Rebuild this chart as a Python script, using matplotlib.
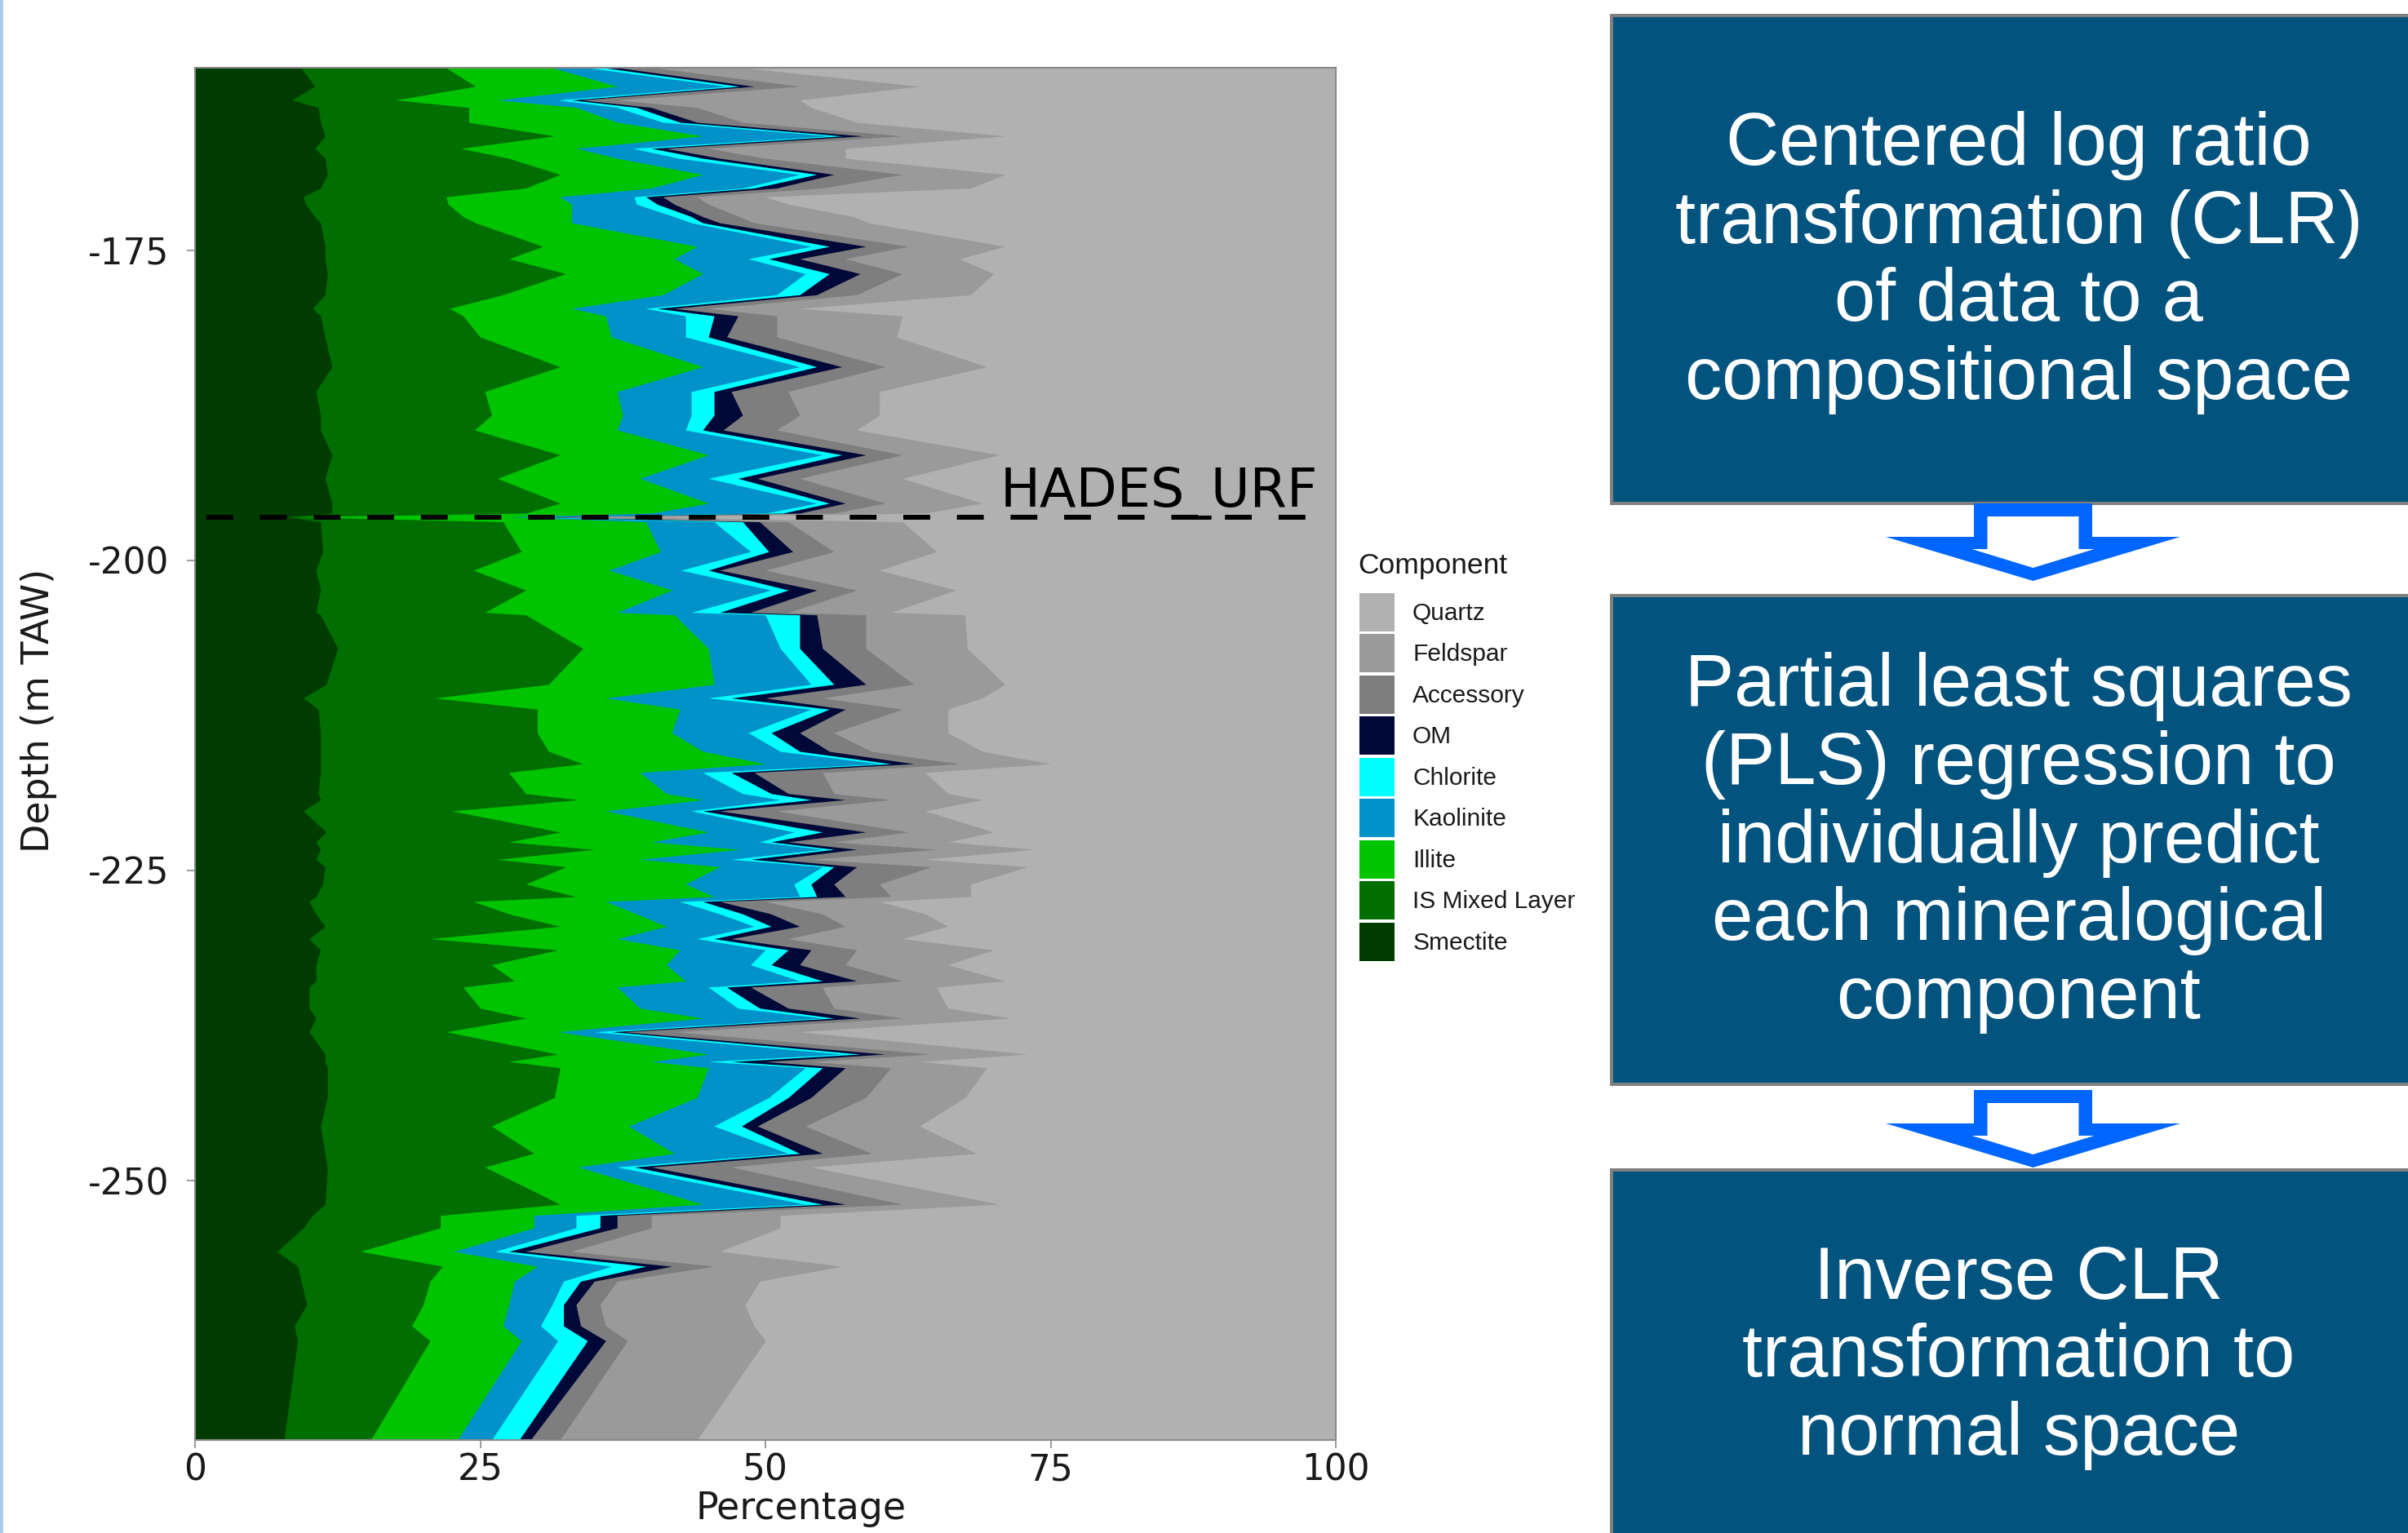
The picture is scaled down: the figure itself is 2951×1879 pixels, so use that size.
import numpy as np
import matplotlib
matplotlib.use('Agg')
import matplotlib.pyplot as plt
from matplotlib.patches import Patch, Rectangle, Polygon

plt.rcParams['axes.unicode_minus'] = False

# Depth of each sample (m TAW)
depth = [-160.3, -161.8, -162.9, -163.5, -164.7, -165.8, -166.8, -167.6, -168.9, -170.0,
         -170.7, -171.3, -172.3, -172.8, -174.7, -175.7, -176.9, -178.6, -179.7, -180.3,
         -182.0, -184.4, -186.4, -188.3, -189.5, -191.5, -193.4, -195.4, -196.2, -196.5,
         -196.9, -199.3, -200.8, -202.4, -204.2, -204.4, -207.1, -210.0, -211.1, -212.0,
         -213.9, -215.4, -216.4, -217.1, -218.8, -219.3, -220.2, -221.9, -222.7, -223.3,
         -224.1, -224.7, -226.1, -227.1, -227.5, -228.5, -229.5, -230.5, -231.4, -232.6,
         -233.9, -234.4, -236.1, -236.9, -238.0, -239.8, -240.4, -240.9, -243.3, -245.6,
         -247.8, -248.9, -251.9, -252.8, -253.8, -255.7, -256.9, -258.1, -260.0, -261.7,
         -262.9, -270.9]

# Cumulative percentage at the right edge of each component
smectite = [9.3, 10.5, 8.5, 10.8, 11.0, 11.4, 10.5, 11.4, 11.6, 11.0,
            9.5, 9.7, 10.5, 11.0, 11.4, 11.4, 11.6, 11.4, 10.3, 11.0,
            11.4, 12.0, 10.6, 11.0, 11.0, 12.0, 11.4, 12.0, 12.0, 8.0,
            11.0, 11.2, 10.6, 11.0, 10.6, 11.0, 12.5, 11.5, 9.5, 10.8,
            11.0, 11.0, 11.0, 11.0, 10.8, 11.0, 9.5, 11.5, 10.6, 11.0,
            10.6, 11.4, 11.2, 10.6, 10.0, 10.6, 11.4, 10.0, 11.0, 10.6,
            10.6, 10.0, 10.0, 10.6, 10.0, 11.4, 11.4, 11.6, 11.6, 11.0,
            11.4, 11.6, 11.4, 10.3, 9.5, 7.2, 9.0, 9.3, 9.8, 8.7,
            9.0, 7.8]
mixed = [22.0, 24.6, 17.6, 24.0, 24.0, 31.5, 23.3, 27.5, 32.0, 29.0,
         22.0, 22.2, 23.5, 24.6, 30.5, 27.5, 32.5, 27.0, 22.3, 23.5,
         25.0, 32.0, 25.4, 26.0, 24.5, 32.0, 26.5, 32.0, 29.0, 9.0,
         27.0, 28.6, 24.4, 29.0, 25.4, 29.0, 34.0, 31.0, 21.0, 30.0,
         30.0, 31.0, 34.0, 27.5, 29.0, 33.6, 22.5, 32.0, 27.5, 35.0,
         26.5, 32.5, 29.0, 33.4, 24.4, 27.5, 32.0, 20.6, 31.8, 26.0,
         28.0, 23.5, 25.0, 29.0, 22.0, 31.8, 27.5, 32.0, 31.5, 26.0,
         29.7, 25.4, 32.0, 21.5, 21.5, 14.5, 21.7, 20.6, 20.0, 19.0,
         20.6, 15.4]
illite = [31.3, 37.0, 26.5, 33.4, 37.0, 44.5, 33.4, 37.0, 44.5, 40.0,
          32.0, 33.0, 33.0, 33.0, 44.0, 42.0, 44.5, 41.0, 33.0, 36.0,
          36.5, 44.5, 37.0, 37.5, 37.0, 45.0, 39.0, 45.0, 40.0, 27.5,
          39.5, 40.8, 36.3, 41.8, 37.0, 42.0, 45.0, 45.5, 36.0, 42.5,
          41.8, 44.5, 50.0, 39.0, 41.3, 44.5, 36.0, 45.0, 40.0, 47.7,
          39.0, 46.0, 43.0, 45.5, 36.0, 38.7, 41.3, 37.0, 42.5, 41.3,
          43.0, 37.0, 39.0, 44.5, 31.8, 45.0, 40.0, 45.0, 44.0, 38.0,
          42.0, 33.6, 44.5, 29.7, 29.7, 22.7, 30.0, 28.0, 27.5, 27.0,
          28.6, 23.0]
kaolinite = [34.4, 46.6, 31.8, 37.0, 41.0, 55.6, 38.4, 42.4, 53.0, 48.0,
             38.5, 38.7, 42.0, 43.5, 54.0, 48.5, 53.5, 51.0, 39.5, 43.0,
             43.0, 53.0, 43.5, 43.5, 43.0, 55.0, 45.0, 54.5, 50.0, 28.6,
             45.5, 48.7, 42.6, 50.5, 43.5, 50.0, 51.3, 54.0, 45.0, 54.0,
             48.5, 51.3, 60.0, 44.5, 48.0, 51.3, 43.5, 52.5, 49.5, 55.0,
             47.0, 55.0, 52.5, 53.0, 42.5, 46.0, 49.0, 44.0, 50.0, 48.7,
             53.0, 45.0, 47.6, 55.0, 35.0, 56.7, 45.0, 53.5, 50.3, 45.5,
             52.0, 37.0, 53.5, 33.4, 33.4, 26.3, 36.5, 32.3, 31.3, 30.3,
             31.8, 26.0]
chlorite = [35.8, 47.7, 33.0, 38.7, 42.5, 56.7, 40.0, 44.5, 54.5, 49.0,
            39.5, 40.5, 43.5, 44.5, 55.6, 50.3, 55.6, 53.0, 40.5, 45.5,
            45.0, 54.5, 45.5, 45.5, 44.5, 56.7, 47.6, 55.6, 51.5, 29.7,
            48.0, 50.3, 45.0, 52.0, 46.0, 53.0, 53.0, 56.0, 47.0, 55.6,
            50.5, 53.0, 61.0, 47.0, 50.5, 54.0, 44.5, 55.0, 50.5, 56.0,
            48.7, 56.0, 54.0, 54.5, 44.5, 48.0, 50.5, 45.5, 52.0, 50.5,
            55.0, 46.6, 49.5, 56.0, 36.5, 58.3, 47.0, 55.0, 52.0, 47.9,
            53.0, 38.5, 55.0, 35.5, 35.5, 27.5, 39.5, 33.8, 32.3, 32.3,
            34.4, 28.4]
om = [37.1, 49.0, 33.9, 40.0, 44.0, 58.5, 41.3, 46.0, 56.0, 51.0,
      41.0, 42.0, 44.5, 46.0, 58.8, 53.0, 58.3, 54.5, 42.0, 47.6,
      46.6, 56.7, 47.0, 48.0, 46.3, 58.8, 49.3, 57.0, 53.0, 30.5,
      49.5, 52.4, 46.0, 54.5, 48.7, 54.5, 55.0, 58.8, 50.0, 57.0,
      53.0, 55.6, 63.0, 49.0, 52.0, 57.0, 46.0, 58.8, 52.0, 58.0,
      50.8, 58.0, 56.0, 57.0, 46.0, 50.5, 53.0, 47.0, 54.0, 53.0,
      58.0, 48.7, 52.0, 58.3, 37.6, 60.5, 50.0, 57.0, 54.0, 49.3,
      55.0, 40.0, 57.0, 37.0, 37.0, 29.0, 41.8, 35.0, 33.4, 33.8,
      36.0, 29.4]
accessory = [40.3, 53.0, 37.0, 44.0, 48.0, 62.0, 45.0, 50.0, 62.0, 55.0,
             44.0, 45.0, 47.7, 49.0, 62.5, 57.0, 62.0, 58.0, 45.0, 51.0,
             51.0, 60.5, 52.0, 53.0, 51.0, 62.0, 53.0, 60.5, 56.0, 33.0,
             52.0, 56.0, 50.0, 58.0, 52.0, 58.8, 58.8, 63.0, 55.0, 62.0,
             56.0, 59.3, 67.0, 55.0, 56.0, 61.0, 51.0, 62.5, 56.0, 65.0,
             54.0, 64.5, 60.0, 61.0, 50.0, 55.0, 57.0, 52.0, 58.0, 57.0,
             62.0, 55.0, 56.0, 62.0, 42.0, 64.5, 54.0, 61.0, 58.8, 53.5,
             59.3, 47.0, 62.0, 40.0, 40.0, 33.0, 45.5, 37.0, 35.5, 36.0,
             37.9, 32.0]
feldspar = [48.0, 63.5, 53.0, 54.0, 58.0, 71.0, 57.0, 57.0, 71.0, 68.0,
            50.0, 52.0, 57.7, 59.0, 71.0, 67.0, 70.0, 68.0, 53.0, 62.0,
            61.5, 69.4, 60.0, 60.0, 58.0, 70.5, 62.0, 69.0, 64.0, 40.0,
            62.0, 65.0, 60.0, 66.7, 61.0, 67.5, 67.7, 71.0, 69.0, 66.0,
            66.0, 69.0, 75.0, 64.0, 66.0, 69.0, 64.0, 70.0, 66.0, 73.6,
            64.0, 73.0, 68.0, 68.0, 60.0, 64.0, 66.0, 62.0, 70.0, 66.0,
            71.0, 65.0, 66.0, 71.5, 53.0, 73.0, 63.5, 69.4, 67.5, 63.5,
            68.5, 54.0, 70.5, 51.3, 51.3, 46.0, 56.7, 49.5, 48.2, 49.0,
            50.0, 44.0]

components = ['Quartz', 'Feldspar', 'Accessory', 'OM', 'Chlorite',
              'Kaolinite', 'Illite', 'IS Mixed Layer', 'Smectite']
colors = ['#B1B1B1', '#9A9A9A', '#7E7E7E', '#000838', '#00FFFF',
          '#0092C8', '#00C400', '#006E00', '#003C00']

urf_depth = -196.5
xticks = [0, 25, 50, 75, 100]
yticks = [-175, -200, -225, -250]

steps = ['Centered log ratio\ntransformation (CLR)\nof data to a\ncompositional space',
         'Partial least squares\n(PLS) regression to\nindividually predict\neach mineralogical\ncomponent',
         'Inverse CLR\ntransformation to\nnormal space']

W, H = 2951, 1879
fig = plt.figure(figsize=(W / 100, H / 100), dpi=100)
fig.patch.set_facecolor('white')

def fx(x):
    return x / W

def fy(y):
    return 1 - y / H

#%% Stacked composition log
ax = fig.add_axes([fx(239), fy(1765), 1398 / W, 1682 / H])

# quartz fills the rest up to 100 %, the others are layered from the right
ax.fill_betweenx(depth, 0, 100, color=colors[0], linewidth=0)
edges = [feldspar, accessory, om, chlorite, kaolinite, illite, mixed, smectite]
for edge, col in zip(edges, colors[1:]):
    ax.fill_betweenx(depth, 0, edge, color=col, linewidth=0)

ax.axhline(urf_depth, xmin=0.01, xmax=0.99, color='black', linewidth=4.3,
           linestyle=(0, (5.5, 5.5)))
ax.annotate('HADES_URF', xy=(98.4, urf_depth), xytext=(0, 9),
            textcoords='offset points', ha='right', va='baseline',
            fontsize=47, color='black')

ax.set_xlim(0, 100)
ax.set_ylim(-270.9, -160.3)
ax.set_xticks(xticks)
ax.set_yticks(yticks)
for s in ax.spines.values():
    s.set_color('#8A8A8A')
    s.set_linewidth(1.5)
ax.tick_params(axis='both', direction='out', length=7, width=1.2,
               color='#8A8A8A', labelsize=31.5, labelcolor='#1A1A1A')
ax.tick_params(axis='y', pad=16)
ax.tick_params(axis='x', pad=4)

ax.set_ylabel('Depth (m TAW)', fontsize=33, color='#1A1A1A')
ax.yaxis.label.set_va('center')
ax.yaxis.set_label_coords(-0.137, 0.5315)
ax.set_xlabel('Percentage', fontsize=33, color='#1A1A1A')
ax.xaxis.label.set_va('center')
ax.xaxis.set_label_coords(0.531, -0.0505)

# Legend (title placed on its own so the gap matches)
fig.text(fx(1664), fy(693), 'Component', ha='left', va='center',
         family='Liberation Sans', fontsize=25.5, color='#1A1A1A')
handles = [Patch(facecolor=c, edgecolor='none') for c in colors]
fig.legend(handles, components, loc='upper left',
           bbox_to_anchor=(fx(1666), fy(727)), frameon=False,
           prop={'family': 'Liberation Sans', 'size': 21.5},
           handlelength=1.44, handleheight=2.04, labelspacing=0.12,
           handletextpad=0.74, borderpad=0, borderaxespad=0,
           labelcolor='#1A1A1A')

# Left slide edge
fig.add_artist(Rectangle((0, 0), fx(4), 1, transform=fig.transFigure,
                         facecolor='#A8CBEA', edgecolor='none'))

#%% Workflow boxes
box_color = '#03537F'
box_spans = [(19, 617), (730, 1329), (1434, 1895)]
text_centers = [322, 1033, 1664]
for (top, bottom), yc, txt in zip(box_spans, text_centers, steps):
    fig.add_artist(Rectangle((fx(1975), fy(bottom)), (3000 - 1975) / W,
                             (bottom - top) / H, transform=fig.transFigure,
                             facecolor=box_color, edgecolor='#7F7F7F',
                             linewidth=2.9))
    fig.text(fx(2474), fy(yc), txt, ha='center', va='center',
             multialignment='center', color='white', fontsize=65,
             family='Liberation Sans', linespacing=1.16)

# Hollow arrows between boxes
cx = 2491.5
for top in [617, 1336]:
    outer = [(cx - 72.5, top), (cx + 72.5, top), (cx + 72.5, top + 41),
             (cx + 180.5, top + 41), (cx, top + 95), (cx - 180.5, top + 41),
             (cx - 72.5, top + 41)]
    inner = [(cx - 56, top + 16), (cx + 56, top + 16), (cx + 56, top + 56),
             (cx + 75, top + 56), (cx, top + 79), (cx - 75, top + 56),
             (cx - 56, top + 56)]
    for pts, col in [(outer, '#0066FF'), (inner, 'white')]:
        fig.add_artist(Polygon([(fx(x), fy(y)) for x, y in pts], closed=True,
                               transform=fig.transFigure, facecolor=col,
                               edgecolor='none'))

fig.savefig('out.png', dpi=100)
